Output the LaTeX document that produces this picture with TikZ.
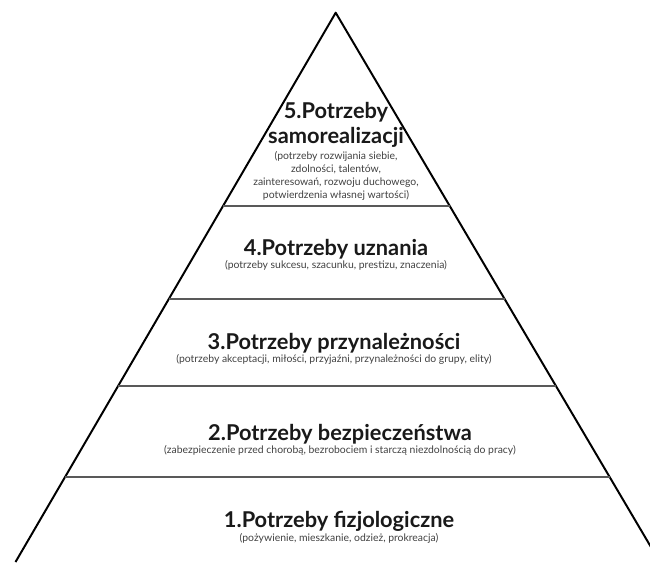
\documentclass[tikz,border=0pt]{standalone}
\usepackage{fontspec}
\setmainfont{Lato}
\usepackage{tikz}
\usetikzlibrary{positioning,calc}

\begin{document}
\begin{tikzpicture}[
  x=0.025cm, y=-0.025cm,
  node distance=1pt,
  title/.style={font=\fontsize{15.5}{18}\selectfont\bfseries, inner sep=0pt,
               align=center, text=black!90},
  note/.style={font=\fontsize{7.4}{9.4}\selectfont, inner sep=0pt,
              align=center, text=black!75},
  edge/.style={line width=1.4pt, line join=round},
  band/.style={line width=1.3pt, color=black!65},
]
\useasboundingbox (0,0) rectangle (650,562);
\clip (0,0) rectangle (650,562);

% pyramid outline
\coordinate (top) at (335.7,12.7);
\coordinate (bl) at (15.5,562);
\coordinate (br) at (659.8,562);
\draw[edge] (bl) -- (top) -- (br);

% band borders
\foreach \t/\n in {0.352/a, 0.521/b, 0.680/c, 0.845/d}{
  \coordinate (l\n) at ($(top)!\t!(bl)$);
  \coordinate (r\n) at ($(top)!\t!(br)$);
  \draw[band] (l\n) -- (r\n);
}

% 5
\node[title] (t5) at (336,125) {5.Potrzeby\\samorealizacji};
\node[note, below=2pt of t5] (n5) {(potrzeby rozwijania siebie,\\zdolności, talentów,\\zainteresowań, rozwoju duchowego,\\potwierdzenia własnej wartości)};
% 4
\node[title] (t4) at (336,249) {4.Potrzeby uznania};
\node[note, below=of t4] (n4) {(potrzeby sukcesu, szacunku, prestizu, znaczenia)};
% 3
\node[title] (t3) at (334,343) {3.Potrzeby przynależności};
\node[note, below=of t3] (n3) {(potrzeby akceptacji, miłości, przyjaźni, przynależności do grupy, elity)};
% 2
\node[title] (t2) at (340,434) {2.Potrzeby bezpieczeństwa};
\node[note, below=of t2] (n2) {(zabezpieczenie przed chorobą, bezrobociem i starczą niezdolnością do pracy)};
% 1
\node[title] (t1) at (339,521) {1.Potrzeby fizjologiczne};
\node[note, below=of t1] (n1) {(pożywienie, mieszkanie, odzież, prokreacja)};
\end{tikzpicture}
\end{document}
